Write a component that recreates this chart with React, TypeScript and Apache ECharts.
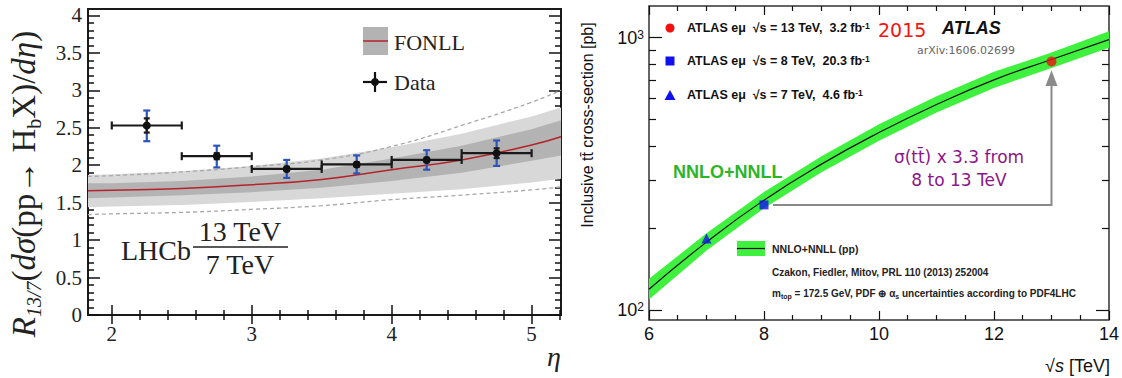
import React, { useEffect, useRef } from 'react';
import * as echarts from 'echarts';

// ---------------- Left panel (LHCb R_13/7) ----------------
const etaCenter = [2.25, 2.75, 3.25, 3.75, 4.25, 4.75];
const etaBinLo = [2.0, 2.5, 3.0, 3.5, 4.0, 4.5];
const etaBinHi = [2.5, 3.0, 3.5, 4.0, 4.5, 5.0];
const ratio = [2.53, 2.12, 1.95, 2.01, 2.07, 2.16];
const totErrUp = [0.2, 0.14, 0.12, 0.12, 0.13, 0.17];
const totErrDn = [0.21, 0.15, 0.12, 0.12, 0.13, 0.17];
const statErr = [0.095, 0.04, 0.03, 0.03, 0.03, 0.065];

const fonllEta = [1.83, 2.0, 2.5, 3.0, 3.5, 4.0, 4.5, 5.0, 5.21];
const fonllCentral = [1.66, 1.665, 1.69, 1.74, 1.81, 1.94, 2.07, 2.27, 2.38];
const fonllLo = [1.56, 1.57, 1.6, 1.64, 1.7, 1.79, 1.9, 2.06, 2.13];
const fonllHi = [1.76, 1.76, 1.79, 1.85, 1.94, 2.09, 2.26, 2.48, 2.6];
const hatchLo = [1.44, 1.45, 1.47, 1.51, 1.56, 1.62, 1.68, 1.77, 1.82];
const hatchHi = [1.87, 1.88, 1.92, 1.99, 2.09, 2.24, 2.42, 2.65, 2.77];
const dashHi = [1.85, 1.86, 1.91, 1.98, 2.07, 2.25, 2.53, 2.84, 3.0];
const dashLo = [1.34, 1.35, 1.37, 1.41, 1.46, 1.54, 1.6, 1.67, 1.71];

const etaMajor = [2, 3, 4, 5];
const etaMinor = [2.2, 2.4, 2.6, 2.8, 3.2, 3.4, 3.6, 3.8, 4.2, 4.4, 4.6, 4.8, 5.2];
const rMajor = [0, 0.5, 1, 1.5, 2, 2.5, 3, 3.5, 4];
const rMinor = [0.1, 0.2, 0.3, 0.4, 0.6, 0.7, 0.8, 0.9, 1.1, 1.2, 1.3, 1.4, 1.6, 1.7, 1.8, 1.9, 2.1, 2.2, 2.3, 2.4, 2.6, 2.7, 2.8, 2.9, 3.1, 3.2, 3.3, 3.4, 3.6, 3.7, 3.8, 3.9];

// ---------------- Right panel (ATLAS ttbar) ----------------
const sqrtS = [6, 7, 8, 9, 10, 11, 12, 13, 14];
const nnloCentral = [119, 177.3, 252.9, 343, 448, 568, 700, 831.8, 984.5];
const nnloLo = [109, 165, 236, 320, 418, 531, 654, 774, 918];
const nnloHi = [130, 191, 271, 367, 481, 609, 750, 882, 1056];
const atlas7 = [7, 182.9];
const atlas8 = [8, 242.9];
const atlas13 = [13, 818];
const arrowTip = 760;
const arrowBase = 664;

const sMajor = [6, 8, 10, 12, 14];
const sMinor = [6.5, 7, 7.5, 8.5, 9, 9.5, 10.5, 11, 11.5, 12.5, 13, 13.5];
const xsMajor = [100, 1000];
const xsMinor = [200, 300, 400, 500, 600, 700, 800, 900];

const serif = 'Liberation Serif, Times New Roman, serif';
const sans = 'Liberation Sans, Arial, sans-serif';
const dejavu = 'DejaVu Sans, sans-serif';

function bandRender(xs: number[], lo: number[], hi: number[], fill: string) {
  return (params: any, api: any) => {
    if (params.dataIndex !== 0) return null;
    const pts: number[][] = [];
    for (let i = 0; i < xs.length; i++) pts.push(api.coord([xs[i], lo[i]]));
    for (let i = xs.length - 1; i >= 0; i--) pts.push(api.coord([xs[i], hi[i]]));
    return { type: 'polygon', shape: { points: pts }, style: { fill, stroke: 'none' } };
  };
}

function hAxis(grid: number, min: number, max: number, pos: string, vals: number[], len: number, label: any, width = 1.5) {
  return {
    gridIndex: grid, type: 'value', min, max, position: pos,
    axisLine: { show: false }, splitLine: { show: false },
    axisTick: { show: true, inside: true, length: len, customValues: vals, lineStyle: { color: '#111', width } },
    axisLabel: label ? { show: true, customValues: vals, ...label } : { show: false },
  };
}
function vAxis(grid: number, type: string, min: number, max: number, pos: string, vals: number[], len: number, label: any, width = 1.5) {
  return {
    gridIndex: grid, type, min, max, position: pos, logBase: 10,
    axisLine: { show: false }, splitLine: { show: false },
    axisTick: { show: true, inside: true, length: len, customValues: vals, lineStyle: { color: '#111', width } },
    axisLabel: label ? { show: true, customValues: vals, ...label } : { show: false },
  };
}

function txt(x: number, y: number, text: string, style: any, extra: any = {}) {
  return { type: 'text', x, y, silent: true, z: 100, style: { text, align: 'left', verticalAlign: 'middle', fill: '#111', ...style }, ...extra };
}

export default function App() {
  const ref = useRef<HTMLDivElement>(null);
  useEffect(() => {
    document.body.style.margin = '0';
    const chart = echarts.init(ref.current!, null, { renderer: 'svg' });
    const leftLabelX = { margin: 8, fontFamily: serif, fontSize: 21, color: '#222' };
    const leftLabelY = { margin: 6, fontFamily: serif, fontSize: 21, color: '#222' };
    const rightLabelX = { margin: 5, fontFamily: sans, fontSize: 18, color: '#111' };
    const rightLabelY = {
      margin: 5, fontFamily: sans, fontSize: 18, color: '#111',
      formatter: (v: number) => `10{sup|${Math.round(Math.log10(v))}}`,
      rich: { sup: { fontSize: 12, fontFamily: sans, color: '#111', verticalAlign: 'top', padding: [0, 0, 6, 0] } },
    };
    const titleMain = { fontFamily: serif, fontSize: 33, fill: '#222', lineHeight: 40 };
    const option: any = {
      animation: false,
      backgroundColor: '#fff',
      grid: [
        { left: 88, top: 9, width: 473, height: 306, show: true, borderColor: '#1a1a1a', borderWidth: 2, backgroundColor: 'transparent' },
        { left: 649, top: 6, width: 461, height: 314, show: true, borderColor: '#333', borderWidth: 1.5, backgroundColor: 'transparent' },
      ],
      xAxis: [
        hAxis(0, 1.83, 5.21, 'bottom', etaMajor, 10, leftLabelX),
        hAxis(0, 1.83, 5.21, 'bottom', etaMinor, 5, null),
        hAxis(0, 1.83, 5.21, 'top', etaMajor, 9, null),
        hAxis(0, 1.83, 5.21, 'top', etaMinor, 5, null),
        hAxis(1, 6, 14, 'bottom', sMajor, 9, rightLabelX, 1.2),
        hAxis(1, 6, 14, 'bottom', sMinor, 5, null, 1.2),
        hAxis(1, 6, 14, 'top', sMajor, 9, null, 1.2),
        hAxis(1, 6, 14, 'top', sMinor, 5, null, 1.2),
      ],
      yAxis: [
        vAxis(0, 'value', 0, 4.085, 'left', rMajor, 12, leftLabelY),
        vAxis(0, 'value', 0, 4.085, 'left', rMinor, 6, null),
        vAxis(0, 'value', 0, 4.085, 'right', rMajor, 12, null),
        vAxis(0, 'value', 0, 4.085, 'right', rMinor, 6, null),
        vAxis(1, 'log', 91.7, 1308, 'left', xsMajor, 13, rightLabelY, 1.2),
        vAxis(1, 'log', 91.7, 1308, 'left', xsMinor, 7, null, 1.2),
        vAxis(1, 'log', 91.7, 1308, 'right', xsMajor, 13, null, 1.2),
        vAxis(1, 'log', 91.7, 1308, 'right', xsMinor, 7, null, 1.2),
      ],
      series: [
        {
          type: 'custom', xAxisIndex: 0, yAxisIndex: 0, silent: true, clip: true, z: 1,
          data: fonllEta.map((x, i) => [x, hatchLo[i], hatchHi[i]]),
          renderItem: bandRender(fonllEta, hatchLo, hatchHi, '#d8d8d8'),
        },
        {
          type: 'custom', xAxisIndex: 0, yAxisIndex: 0, silent: true, clip: true, z: 2,
          data: fonllEta.map((x, i) => [x, fonllLo[i], fonllHi[i]]),
          renderItem: bandRender(fonllEta, fonllLo, fonllHi, '#b3b3b3'),
        },
        {
          type: 'line', xAxisIndex: 0, yAxisIndex: 0, smooth: true, symbol: 'none', z: 3, silent: true,
          data: fonllEta.map((x, i) => [x, dashHi[i]]),
          lineStyle: { color: '#a8a8a8', width: 1.3, type: [4, 3] },
        },
        {
          type: 'line', xAxisIndex: 0, yAxisIndex: 0, smooth: true, symbol: 'none', z: 3, silent: true,
          data: fonllEta.map((x, i) => [x, dashLo[i]]),
          lineStyle: { color: '#a8a8a8', width: 1.3, type: [4, 3] },
        },
        {
          type: 'line', xAxisIndex: 0, yAxisIndex: 0, smooth: true, symbol: 'none', z: 4, silent: true,
          data: fonllEta.map((x, i) => [x, fonllCentral[i]]),
          lineStyle: { color: '#b5242a', width: 1.5 },
        },
        {
          type: 'custom', xAxisIndex: 0, yAxisIndex: 0, z: 5, silent: true,
          data: etaCenter.map((x, i) => [x, ratio[i], etaBinLo[i], etaBinHi[i], totErrUp[i], totErrDn[i], statErr[i]]),
          renderItem: (params: any, api: any) => {
            const x = api.value(0), y = api.value(1);
            const c = api.coord([x, y]);
            const l = api.coord([api.value(2), y]);
            const r = api.coord([api.value(3), y]);
            const tu = api.coord([x, y + api.value(4)]);
            const td = api.coord([x, y - api.value(5)]);
            const su = api.coord([x, y + api.value(6)]);
            const sd = api.coord([x, y - api.value(6)]);
            const blk = { stroke: '#1a1a1a', lineWidth: 2.2 };
            const blu = { stroke: '#2d55b8', lineWidth: 2.2 };
            const ln = (x1: number, y1: number, x2: number, y2: number, st: any) => ({ type: 'line', shape: { x1, y1, x2, y2 }, style: st });
            return {
              type: 'group',
              children: [
                ln(tu[0], tu[1], td[0], td[1], blu),
                ln(tu[0] - 3.5, tu[1], tu[0] + 3.5, tu[1], blu),
                ln(td[0] - 3.5, td[1], td[0] + 3.5, td[1], blu),
                ln(l[0], l[1], r[0], r[1], blk),
                ln(l[0], l[1] - 4, l[0], l[1] + 4, blk),
                ln(r[0], r[1] - 4, r[0], r[1] + 4, blk),
                ln(su[0], su[1], sd[0], sd[1], blk),
                ln(su[0] - 3, su[1], su[0] + 3, su[1], blk),
                ln(sd[0] - 3, sd[1], sd[0] + 3, sd[1], blk),
                { type: 'circle', shape: { cx: c[0], cy: c[1], r: 4 }, style: { fill: '#111' } },
              ],
            };
          },
        },
        // ----- right panel -----
        {
          type: 'custom', xAxisIndex: 4, yAxisIndex: 4, silent: true, clip: true, z: 1,
          data: sqrtS.map((x, i) => [x, nnloLo[i], nnloHi[i]]),
          renderItem: bandRender(sqrtS, nnloLo, nnloHi, '#3ff03f'),
        },
        {
          type: 'line', xAxisIndex: 4, yAxisIndex: 4, smooth: true, symbol: 'none', z: 3, silent: true,
          data: sqrtS.map((x, i) => [x, nnloCentral[i]]),
          lineStyle: { color: '#111', width: 1.2 },
        },
        {
          type: 'custom', xAxisIndex: 4, yAxisIndex: 4, z: 4, silent: true, clip: true,
          data: [[atlas8[0], atlas8[1], atlas13[0], arrowBase, arrowTip]],
          renderItem: (params: any, api: any) => {
            const p0 = api.coord([api.value(0), api.value(1)]);
            const p1 = api.coord([api.value(2), api.value(1)]);
            const p2 = api.coord([api.value(2), api.value(3)]);
            const tip = api.coord([api.value(2), api.value(4)]);
            return {
              type: 'group',
              children: [
                { type: 'polyline', shape: { points: [[p0[0] + 9, p0[1]], p1, p2] }, style: { stroke: '#8a8a8a', lineWidth: 2, fill: 'none' } },
                { type: 'polygon', shape: { points: [tip, [p2[0] - 6, p2[1]], [p2[0] + 6, p2[1]]] }, style: { fill: '#8a8a8a' } },
              ],
            };
          },
        },
        {
          type: 'scatter', xAxisIndex: 4, yAxisIndex: 4, z: 6, silent: true,
          symbol: 'triangle', symbolSize: 10, itemStyle: { color: '#1010ee' }, data: [atlas7],
        },
        {
          type: 'scatter', xAxisIndex: 4, yAxisIndex: 4, z: 6, silent: true,
          symbol: 'rect', symbolSize: 9, itemStyle: { color: '#1010ee' }, data: [atlas8],
        },
        {
          type: 'scatter', xAxisIndex: 4, yAxisIndex: 4, z: 6, silent: true,
          symbol: 'circle', symbolSize: 10, itemStyle: { color: '#f01010' }, data: [atlas13],
        },
      ],
      graphic: [
        // left y-axis title
        txt(24, 184, '{i|R}{s|13/7}{n|(}{i|dσ}{n|(pp→ H}{b|b}{n|X)/}{i|dη}{n|)}', {
          align: 'center', fill: '#222', fontFamily: serif, fontSize: 33,
          rich: {
            i: { ...titleMain, fontStyle: 'italic' },
            n: { ...titleMain },
            s: { fontFamily: serif, fontSize: 20, fontStyle: 'italic', fill: '#222', verticalAlign: 'bottom', lineHeight: 20 },
            b: { fontFamily: serif, fontSize: 20, fill: '#222', verticalAlign: 'bottom', lineHeight: 20 },
          },
        }, { rotation: Math.PI / 2 }),
        txt(554, 356, 'η', { align: 'center', fontFamily: serif, fontSize: 28, fontStyle: 'italic', fill: '#222' }),
        // LHCb label
        txt(121, 250, 'LHCb', { fontFamily: serif, fontSize: 28, fill: '#222' }),
        txt(240, 231, '13 TeV', { align: 'center', fontFamily: serif, fontSize: 28, fill: '#222' }),
        txt(240, 264, '7 TeV', { align: 'center', fontFamily: serif, fontSize: 28, fill: '#222' }),
        { type: 'line', silent: true, z: 100, shape: { x1: 193, y1: 247, x2: 288, y2: 247 }, style: { stroke: '#222', lineWidth: 1.5 } },
        // FONLL legend
        { type: 'rect', silent: true, z: 100, shape: { x: 363, y: 27, width: 25, height: 28 }, style: { fill: '#b3b3b3' } },
        { type: 'line', silent: true, z: 101, shape: { x1: 363, y1: 41, x2: 388, y2: 41 }, style: { stroke: '#b5242a', lineWidth: 1.5 } },
        txt(394, 42, 'FONLL', { fontFamily: serif, fontSize: 22, fill: '#222' }),
        { type: 'line', silent: true, z: 100, shape: { x1: 363, y1: 82, x2: 387, y2: 82 }, style: { stroke: '#111', lineWidth: 2.2 } },
        { type: 'line', silent: true, z: 100, shape: { x1: 375, y1: 72, x2: 375, y2: 92 }, style: { stroke: '#111', lineWidth: 2.2 } },
        { type: 'circle', silent: true, z: 100, shape: { cx: 375, cy: 82, r: 4 }, style: { fill: '#111' } },
        txt(394, 82, 'Data', { fontFamily: serif, fontSize: 22, fill: '#222' }),

        // right y-axis title
        txt(587, 125, 'Inclusive tt̄ cross-section [pb]', { align: 'center', fontFamily: sans, fontSize: 16, fill: '#111' }, { rotation: Math.PI / 2 }),
        txt(1110, 366, '{n|√}{i|s}{n| [TeV]}', {
          align: 'right', fontFamily: sans, fontSize: 18,
          rich: {
            n: { fontFamily: sans, fontSize: 18, fill: '#111' },
            i: { fontFamily: sans, fontSize: 18, fontStyle: 'italic', fill: '#111' },
          },
        }),
        // top-left legend
        { type: 'circle', silent: true, z: 100, shape: { cx: 670, cy: 28, r: 4.5 }, style: { fill: '#f01010' } },
        { type: 'rect', silent: true, z: 100, shape: { x: 665.5, y: 56.5, width: 9, height: 9 }, style: { fill: '#1010ee' } },
        { type: 'polygon', silent: true, z: 100, shape: { points: [[670, 90], [664.5, 100], [675.5, 100]] }, style: { fill: '#1010ee' } },
        ...[['13 TeV,  3.2 fb', 28], ['8 TeV,  20.3 fb', 61], ['7 TeV,  4.6 fb', 95]].map(([t, y]) =>
          txt(687, y as number, `{n|ATLAS eμ  √s = ${t}}{sup|-1}`, {
            fontFamily: sans, fontSize: 12.5, fontWeight: 'bold',
            rich: {
              n: { fontFamily: sans, fontSize: 12.5, fontWeight: 'bold', fill: '#111' },
              sup: { fontFamily: sans, fontSize: 8.5, fontWeight: 'bold', fill: '#111', verticalAlign: 'top' },
            },
          })),
        txt(878, 30, '2015', { fontFamily: dejavu, fontSize: 19, fill: '#f01414' }),
        txt(942, 28, 'ATLAS', { fontFamily: sans, fontSize: 18, fontWeight: 'bold', fontStyle: 'italic', fill: '#111' }),
        txt(917, 50, 'arXiv:1606.02699', { fontFamily: dejavu, fontSize: 11, fill: '#666' }),
        txt(673, 172, 'NNLO+NNLL', { fontFamily: sans, fontSize: 18, fontWeight: 'bold', fill: '#2ab52a' }),
        txt(959, 157, 'σ(tt̄) x 3.3 from', { align: 'center', fontFamily: dejavu, fontSize: 17, fill: '#8b168b' }),
        txt(959, 180, '8 to 13 TeV', { align: 'center', fontFamily: dejavu, fontSize: 17, fill: '#8b168b' }),
        // bottom legend
        { type: 'rect', silent: true, z: 100, shape: { x: 737, y: 241, width: 28, height: 15 }, style: { fill: '#3ff03f' } },
        { type: 'line', silent: true, z: 101, shape: { x1: 737, y1: 248.5, x2: 765, y2: 248.5 }, style: { stroke: '#111', lineWidth: 1.2 } },
        txt(772, 249, 'NNLO+NNLL (pp)', { fontFamily: sans, fontSize: 10.5, fontWeight: 'bold', fill: '#222' }),
        txt(772, 272, 'Czakon, Fiedler, Mitov, PRL 110 (2013) 252004', { fontFamily: sans, fontSize: 10, fontWeight: 'bold', fill: '#222' }),
        txt(772, 293, '{n|m}{s|top}{n| = 172.5 GeV, PDF ⊕ α}{s|s}{n| uncertainties according to PDF4LHC}', {
          fontFamily: sans, fontSize: 10, fontWeight: 'bold',
          rich: {
            n: { fontFamily: sans, fontSize: 10, fontWeight: 'bold', fill: '#222', lineHeight: 14 },
            s: { fontFamily: sans, fontSize: 7, fontWeight: 'bold', fill: '#222', verticalAlign: 'bottom', lineHeight: 8 },
          },
        }),
      ],
    };
    chart.setOption(option);
    return () => chart.dispose();
  }, []);
  return <div ref={ref} style={{ width: 1122, height: 378, background: '#fff' }} />;
}
